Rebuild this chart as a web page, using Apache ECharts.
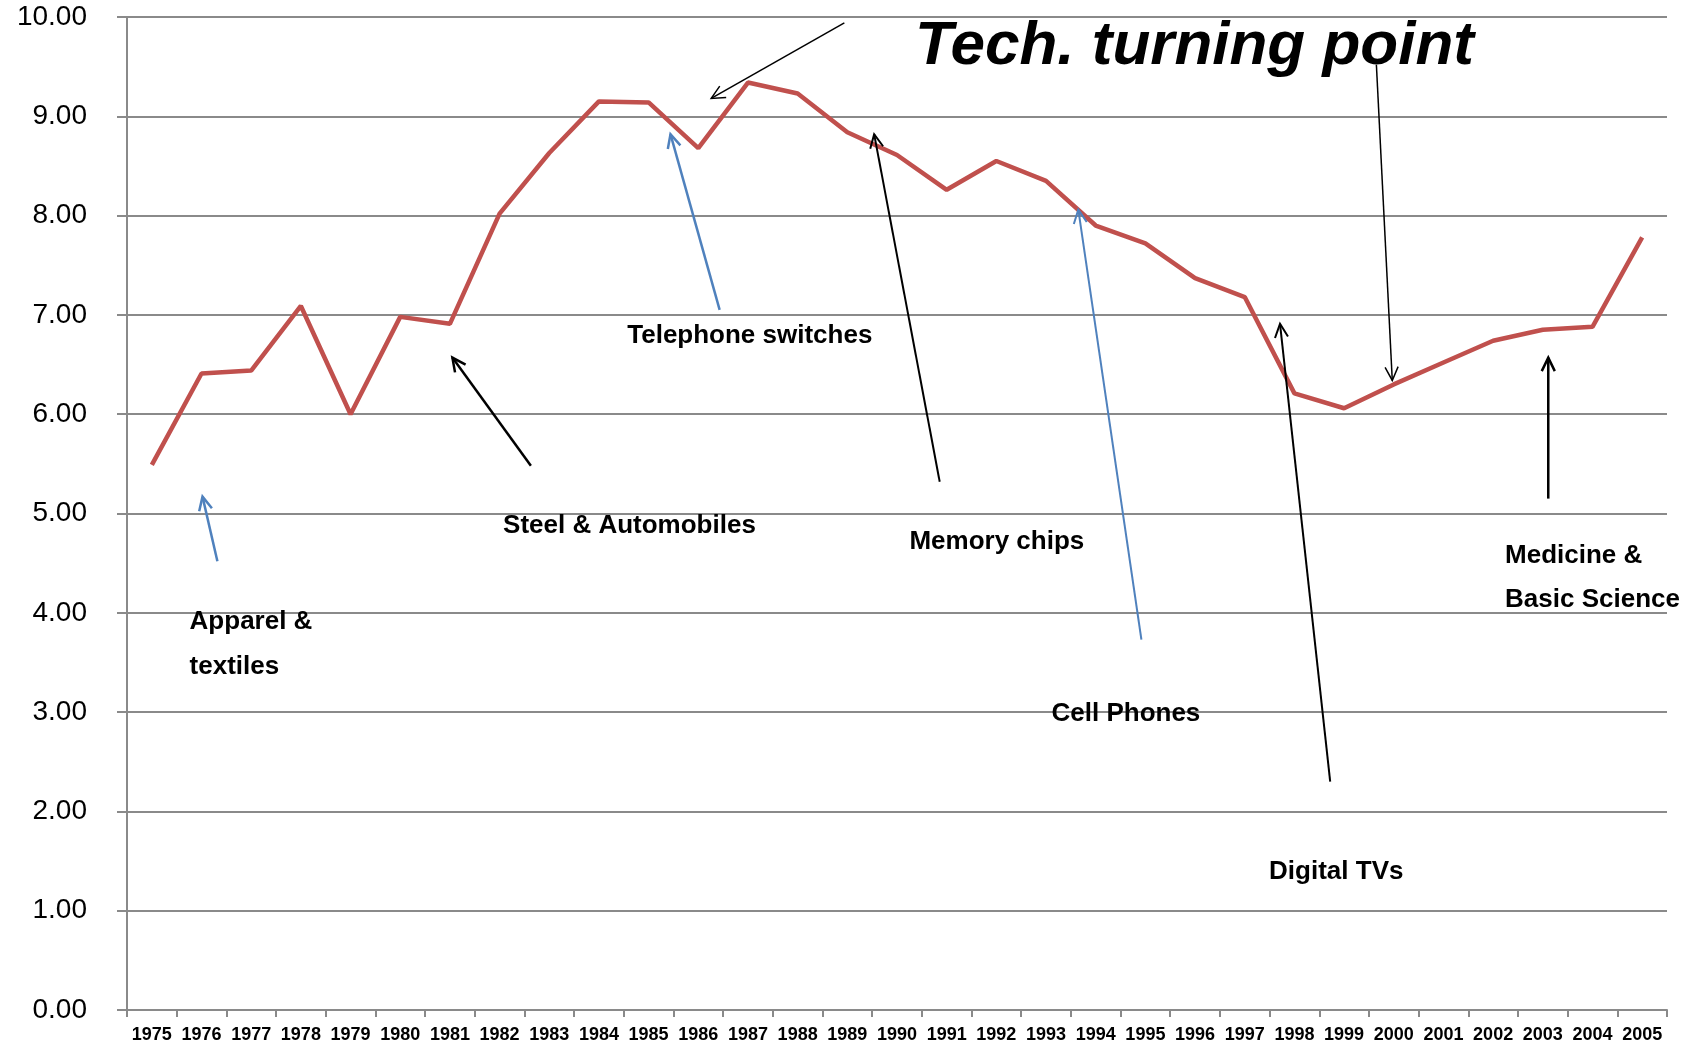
<!DOCTYPE html>
<html>
<head>
<meta charset="utf-8">
<script src="https://cdn.jsdelivr.net/npm/echarts@6/dist/echarts.min.js"></script>
<style>
  html, body { margin: 0; padding: 0; background: #fff; }
  #chart { width: 1682px; height: 1047px; }
</style>
</head>
<body>
<div id="chart"></div>
<script>
const years = [
  "1975", "1976", "1977", "1978", "1979", "1980", "1981", "1982", "1983", "1984",
  "1985", "1986", "1987", "1988", "1989", "1990", "1991", "1992", "1993", "1994",
  "1995", "1996", "1997", "1998", "1999", "2000", "2001", "2002", "2003", "2004", "2005",
];
const values = [
  5.49, 6.41, 6.44, 7.09, 6.0, 6.98, 6.91, 8.02, 8.63, 9.15,
  9.14, 8.68, 9.34, 9.23, 8.84, 8.61, 8.26, 8.55, 8.35, 7.9,
  7.72, 7.37, 7.18, 6.21, 6.06, 6.3, 6.52, 6.74, 6.85, 6.88, 7.78,
];
const yTicks = [0, 1, 2, 3, 4, 5, 6, 7, 8, 9, 10];

// arrows: [from index, from value, to index, to value, colour, width]
const arrows = [
  [1.32, 4.52, 1.02, 5.17, "#4f81bd", 2.5],
  [7.63, 5.48, 6.05, 6.57, "#000", 2.5],
  [11.43, 7.05, 10.44, 8.82, "#4f81bd", 2.5],
  [13.94, 9.94, 11.26, 9.18, "#000", 1.5],
  [15.86, 5.32, 14.54, 8.82, "#000", 2],
  [19.92, 3.73, 18.65, 8.06, "#4f81bd", 2],
  [23.72, 2.3, 22.71, 6.91, "#000", 2],
  [24.65, 9.52, 24.97, 6.34, "#000", 1.5],
  [28.11, 5.15, 28.11, 6.57, "#000", 2.5],
];

// notes: [text, index, value]
const notes = [
  ["Apparel &", 0.76, 3.91],
  ["textiles", 0.76, 3.46],
  ["Steel & Automobiles", 7.07, 4.88],
  ["Telephone switches", 9.57, 6.79],
  ["Memory chips", 15.25, 4.71],
  ["Cell Phones", 18.11, 2.98],
  ["Digital TVs", 22.49, 1.39],
  ["Medicine &", 27.24, 4.57],
  ["Basic Science", 27.24, 4.13],
];
const title = ["Tech. turning point", 15.36, 9.7];

const gray = "#8a8a8a";
const chart = echarts.init(document.getElementById("chart"));

chart.setOption({
  animation: false,
  grid: { left: 127, right: 15, top: 17, bottom: 37, outerBoundsMode: "none" },
  xAxis: {
    type: "category",
    data: years,
    axisLine: { lineStyle: { color: gray, width: 2 } },
    axisTick: { show: true, length: 7, lineStyle: { color: gray, width: 2 } },
    axisLabel: {
      interval: 0,
      margin: 16,
      color: "#000",
      fontWeight: "bold",
      fontSize: 18,
      fontFamily: '"Liberation Sans Narrow", "Liberation Sans", Arial, sans-serif',
    },
  },
  yAxis: {
    type: "value",
    min: yTicks[0],
    max: yTicks[yTicks.length - 1],
    interval: 1,
    axisLine: { show: true, lineStyle: { color: gray, width: 2 } },
    axisTick: { show: true, length: 10, lineStyle: { color: gray, width: 2 } },
    splitLine: { lineStyle: { color: gray, width: 2 } },
    axisLabel: {
      margin: 40,
      color: "#000",
      fontSize: 28,
      fontWeight: 500,
      fontFamily: '"Liberation Sans", Arial, sans-serif',
      formatter: (v) => v.toFixed(2),
    },
  },
  series: [
    {
      type: "line",
      data: values,
      symbol: "none",
      lineStyle: { color: "#c0504d", width: 4.5 },
      z: 3,
    },
  ],
});

const toPx = (i, v) => {
  const x0 = chart.convertToPixel({ xAxisIndex: 0 }, 0);
  const x1 = chart.convertToPixel({ xAxisIndex: 0 }, 1);
  return [x0 + (x1 - x0) * i, chart.convertToPixel({ yAxisIndex: 0 }, v)];
};

const elements = [];
arrows.forEach(([i0, v0, i1, v1, color, w]) => {
  const a = toPx(i0, v0);
  const b = toPx(i1, v1);
  const ang = Math.atan2(a[1] - b[1], a[0] - b[0]);
  const len = 15;
  const spread = 0.45;
  const h1 = [b[0] + len * Math.cos(ang + spread), b[1] + len * Math.sin(ang + spread)];
  const h2 = [b[0] + len * Math.cos(ang - spread), b[1] + len * Math.sin(ang - spread)];
  const style = { stroke: color, lineWidth: w, fill: null };
  elements.push({ type: "line", shape: { x1: a[0], y1: a[1], x2: b[0], y2: b[1] }, style, z: 10 });
  elements.push({ type: "polyline", shape: { points: [h1, b, h2] }, style, z: 10 });
});

notes.forEach(([t, i, v]) => {
  const p = toPx(i, v);
  elements.push({
    type: "text",
    x: p[0],
    y: p[1],
    z: 10,
    style: {
      text: t,
      fill: "#000",
      font: 'bold 26px "Liberation Sans", Arial, sans-serif',
      verticalAlign: "middle",
    },
  });
});

const tp = toPx(title[1], title[2]);
elements.push({
  type: "text",
  x: tp[0],
  y: tp[1],
  z: 10,
  style: {
    text: title[0],
    fill: "#000",
    font: 'italic bold 62px "Liberation Sans", Arial, sans-serif',
    verticalAlign: "middle",
  },
});

chart.setOption({ graphic: { elements } });
</script>
</body>
</html>
